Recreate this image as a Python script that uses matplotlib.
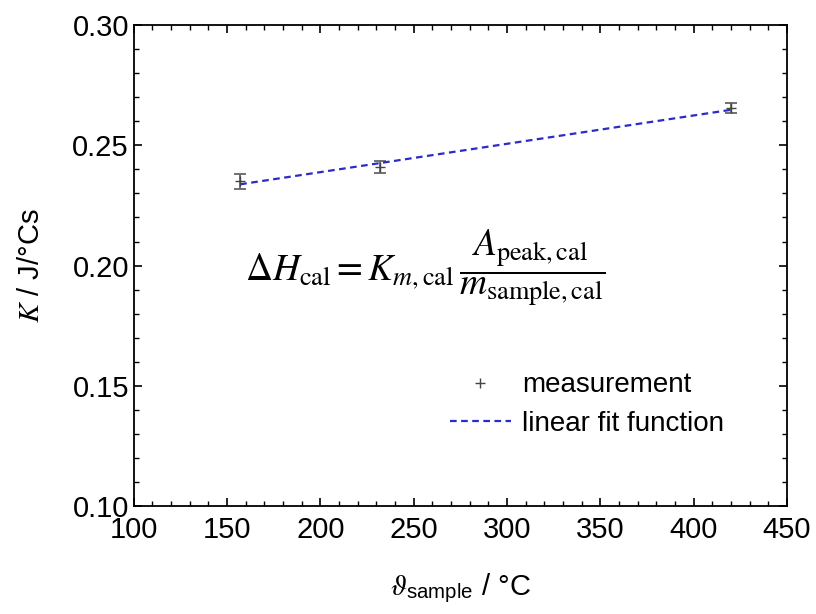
import matplotlib
matplotlib.use('Agg')
import matplotlib.pyplot as plt
from matplotlib.ticker import MultipleLocator
from matplotlib.lines import Line2D

plt.rcParams['font.family'] = ['Liberation Sans', 'DejaVu Sans']
plt.rcParams['mathtext.fontset'] = 'stix'

# measured calibration constants
temp_c = [157, 232, 420]
k_value = [0.2350, 0.2410, 0.2655]
k_err = [0.0030, 0.0025, 0.0022]

# linear fit endpoints
fit_x = [157, 420]
fit_y = [0.2338, 0.2648]

fig = plt.figure(figsize=(8.16, 6.14), dpi=100)
ax = fig.add_axes([0.164, 0.176, 0.8005, 0.783])

ax.errorbar(temp_c, k_value, yerr=k_err, fmt='+', color='#444444', ecolor='#666666',
            elinewidth=1.3, capsize=4, capthick=1.3, markersize=7)
ax.plot(fit_x, fit_y, '--', color='#2b2bc8', linewidth=1.6, dashes=(3, 2))

ax.set_xlim(100, 450)
ax.set_ylim(0.10, 0.30)
ax.xaxis.set_major_locator(MultipleLocator(50))
ax.xaxis.set_minor_locator(MultipleLocator(10))
ax.yaxis.set_major_locator(MultipleLocator(0.05))
ax.yaxis.set_minor_locator(MultipleLocator(0.01))
ax.yaxis.set_major_formatter(plt.FormatStrFormatter('%.2f'))
ax.tick_params(which='both', direction='in', top=True, right=True, labelsize=21)
ax.tick_params(axis='x', pad=7)
ax.tick_params(which='major', length=6, width=1.2)
ax.tick_params(which='minor', length=3.5, width=1)
for s in ax.spines.values():
    s.set_linewidth(1.3)

ax.set_xlabel(r'$\vartheta_{\mathregular{sample}}$ / °C', fontsize=21, labelpad=20)
ax.set_ylabel(r'$K$ / J/°Cs', fontsize=21, labelpad=20)

ax.text(256, 0.199,
        r'$\Delta H_{\mathrm{cal}} = K_{m,\mathrm{cal}}\,\dfrac{A_{\mathrm{peak,cal}}}{m_{\mathrm{sample,cal}}}$',
        fontsize=27, ha='center', va='center')

handles = [
    Line2D([], [], linestyle='none', marker='+', color='#444444', markersize=7),
    Line2D([], [], linestyle='--', color='#2b2bc8', linewidth=1.6, dashes=(3, 2)),
]
ax.legend(handles, ['measurement', 'linear fit function'], loc='upper left',
          bbox_to_anchor=(0.445, 0.33), frameon=False, fontsize=20,
          handlelength=2.2, handletextpad=0.4, labelspacing=0.45)

plt.savefig('out.png', dpi=100)
plt.close()
